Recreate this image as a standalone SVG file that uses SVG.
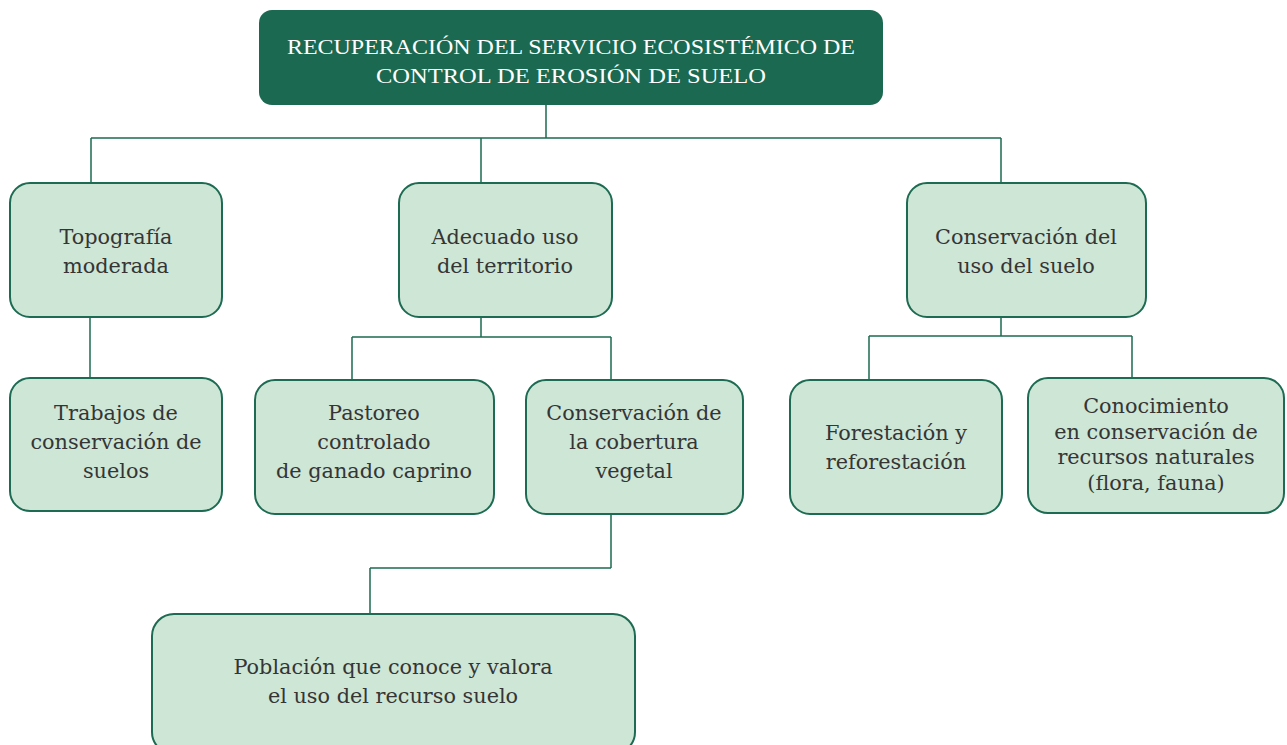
<svg xmlns="http://www.w3.org/2000/svg" width="1287" height="745" viewBox="0 0 1287 745">
<style>
.box{fill:#cde6d5;stroke:#1d6b52;stroke-width:2}
.top{fill:#1a6950}
.t{font-family:"DejaVu Serif","Liberation Serif",serif;font-size:20.8px;fill:#353535;text-anchor:middle}
.tt{font-family:"Liberation Serif","DejaVu Serif",serif;font-size:22px;fill:#ffffff;text-anchor:middle}
.c{fill:none;stroke:#1d6b52;stroke-width:1.5}
</style>
<rect width="1287" height="745" fill="#ffffff"/>
<g id="connectors">
<path class="c" d="M546 105V138M91 138H1001M91 138V183M481 138V183M1001 138V183"/>
<path class="c" d="M90 317V378"/>
<path class="c" d="M481 317V337M352 337H611M352 337V380M611 337V380"/>
<path class="c" d="M1001 317V336M869 336H1132M869 336V380M1132 336V378"/>
<path class="c" d="M611 514V568M370 568H611M370 568V614"/>
</g>
<g id="n0">
<rect class="top" x="259" y="10" width="624" height="95" rx="13"/>
<text class="tt" x="571" y="54" textLength="568" lengthAdjust="spacingAndGlyphs">RECUPERACIÓN DEL SERVICIO ECOSISTÉMICO DE</text>
<text class="tt" x="571" y="83" textLength="390" lengthAdjust="spacingAndGlyphs">CONTROL DE EROSIÓN DE SUELO</text>
</g>
<g id="n1">
<rect class="box" x="10" y="183" width="212" height="134" rx="20"/>
<text class="t" x="116" y="244">Topografía</text>
<text class="t" x="116" y="273">moderada</text>
</g>
<g id="n2">
<rect class="box" x="399" y="183" width="213" height="134" rx="20"/>
<text class="t" x="505" y="244">Adecuado uso</text>
<text class="t" x="505" y="273">del territorio</text>
</g>
<g id="n3">
<rect class="box" x="907" y="183" width="239" height="134" rx="20"/>
<text class="t" x="1026" y="244">Conservación del</text>
<text class="t" x="1026" y="273">uso del suelo</text>
</g>
<g id="n4">
<rect class="box" x="10" y="378" width="212" height="133" rx="20"/>
<text class="t" x="116" y="420">Trabajos de</text>
<text class="t" x="116" y="449">conservación de</text>
<text class="t" x="116" y="478">suelos</text>
</g>
<g id="n5">
<rect class="box" x="255" y="380" width="239" height="134" rx="20"/>
<text class="t" x="374" y="420">Pastoreo</text>
<text class="t" x="374" y="449">controlado</text>
<text class="t" x="374" y="478">de ganado caprino</text>
</g>
<g id="n6">
<rect class="box" x="526" y="380" width="217" height="134" rx="20"/>
<text class="t" x="634" y="420">Conservación de</text>
<text class="t" x="634" y="449">la cobertura</text>
<text class="t" x="634" y="478">vegetal</text>
</g>
<g id="n7">
<rect class="box" x="790" y="380" width="212" height="134" rx="20"/>
<text class="t" x="896" y="440">Forestación y</text>
<text class="t" x="896" y="469">reforestación</text>
</g>
<g id="n8">
<rect class="box" x="1028" y="378" width="256" height="135" rx="20"/>
<text class="t" x="1156" y="413">Conocimiento</text>
<text class="t" x="1156" y="439">en conservación de</text>
<text class="t" x="1156" y="464">recursos naturales</text>
<text class="t" x="1156" y="490">(flora, fauna)</text>
</g>
<g id="n9">
<rect class="box" x="152" y="614" width="483" height="140" rx="22"/>
<text class="t" x="393" y="674">Población que conoce y valora</text>
<text class="t" x="393" y="703">el uso del recurso suelo</text>
</g>
</svg>
